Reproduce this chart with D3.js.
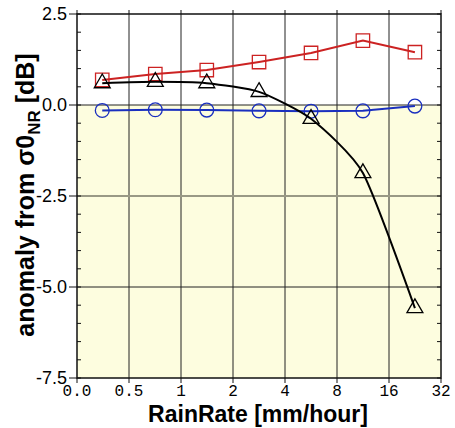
<!DOCTYPE html>
<html>
<head>
<meta charset="utf-8">
<script src="https://cdn.jsdelivr.net/npm/d3@7"></script>
<style>
  body { margin: 0; background: #fff; }
</style>
</head>
<body>
<script>
// rain rate bin edges (first edge is labelled 0.0) and bin centres
const binEdges = [0.25, 0.5, 1, 2, 4, 8, 16, 32];
const edgeLabels = ["0.0", "0.5", "1", "2", "4", "8", "16", "32"];
const binCenters = [0.35, 0.71, 1.41, 2.83, 5.66, 11.3, 22.6];

// anomaly [dB] for each series
const redSquares = [0.69, 0.85, 0.96, 1.18, 1.43, 1.77, 1.45];
const blackTriangles = [0.60, 0.64, 0.60, 0.36, -0.38, -1.87, -5.58];
const blueCircles = [-0.15, -0.13, -0.14, -0.16, -0.17, -0.16, -0.03];

const yTicks = [2.5, 0.0, -2.5, -5.0, -7.5];

const width = 455, height = 428;
const margin = {left: 77, top: 14, right: 14, bottom: 50};
const pw = 364, ph = 364;

const svg = d3.select("body").append("svg")
    .attr("width", width)
    .attr("height", height);

const x = d3.scaleLog().base(2)
    .domain([binEdges[0], binEdges[binEdges.length - 1]])
    .range([margin.left, margin.left + pw]);

const y = d3.scaleLinear()
    .domain([-7.5, 2.5])
    .range([margin.top + ph, margin.top]);

// backgrounds: white above zero, pale yellow below
svg.append("rect")
    .attr("x", x.range()[0]).attr("y", y(0))
    .attr("width", pw).attr("height", y(-7.5) - y(0))
    .attr("fill", "#fdfddf");

// vertical grid
svg.append("g").selectAll("line")
    .data(binEdges.slice(1, -1))
    .join("line")
    .attr("x1", d => x(d)).attr("x2", d => x(d))
    .attr("y1", y(2.5)).attr("y2", y(-7.5))
    .attr("stroke", "#222").attr("stroke-width", 1);

// horizontal grid
svg.append("g").selectAll("line")
    .data([0, -2.5, -5])
    .join("line")
    .attr("x1", x.range()[0]).attr("x2", x.range()[1])
    .attr("y1", d => y(d)).attr("y2", d => y(d))
    .attr("stroke", d => d === -2.5 ? "#999985" : "#222")
    .attr("stroke-width", d => d === -2.5 ? 2 : 1);

// frame
svg.append("rect")
    .attr("x", x.range()[0]).attr("y", y(2.5))
    .attr("width", pw).attr("height", ph)
    .attr("fill", "none").attr("stroke", "#111").attr("stroke-width", 1.5);

// y axes: minor ticks inside on both sides, major ticks outside on the left
const minorY = d3.range(-7.5, 2.51, 0.5);
const axisG = svg.append("g").attr("stroke", "#111");
axisG.selectAll(".yl").data(minorY).join("line")
    .attr("x1", x.range()[0]).attr("x2", x.range()[0] + 4)
    .attr("y1", d => y(d)).attr("y2", d => y(d));
axisG.selectAll(".yr").data(minorY).join("line")
    .attr("x1", x.range()[1] - 4).attr("x2", x.range()[1])
    .attr("y1", d => y(d)).attr("y2", d => y(d));
axisG.selectAll(".ym").data(yTicks).join("line")
    .attr("x1", x.range()[0] - 8).attr("x2", x.range()[0])
    .attr("y1", d => y(d)).attr("y2", d => y(d));

svg.append("g").selectAll("text")
    .data(yTicks)
    .join("text")
    .attr("x", x.range()[0] - 10)
    .attr("y", d => y(d) + 6)
    .attr("text-anchor", "end")
    .style("font", "18px 'Liberation Sans', Arial, sans-serif")
    .text(d => d.toFixed(1));

// x axis ticks outside top and bottom
axisG.selectAll(".xb").data(binEdges).join("line")
    .attr("x1", d => x(d)).attr("x2", d => x(d))
    .attr("y1", y(-7.5)).attr("y2", y(-7.5) + 5);
axisG.selectAll(".xt").data(binEdges).join("line")
    .attr("x1", d => x(d)).attr("x2", d => x(d))
    .attr("y1", y(2.5) - 4).attr("y2", y(2.5));

svg.append("g").selectAll("text")
    .data(binEdges)
    .join("text")
    .attr("x", d => x(d))
    .attr("y", y(-7.5) + 18)
    .attr("text-anchor", "middle")
    .style("font", "16px 'Liberation Mono', 'DejaVu Sans Mono', monospace")
    .text((d, i) => edgeLabels[i]);

// axis titles
svg.append("text")
    .attr("x", x.range()[0] + pw / 2 - 1)
    .attr("y", 422)
    .attr("text-anchor", "middle")
    .style("font", "bold 23px 'Liberation Sans', Arial, sans-serif")
    .text("RainRate [mm/hour]");

const yl = svg.append("text")
    .attr("transform", `translate(34, 195) rotate(-90)`)
    .attr("text-anchor", "middle")
    .style("font", "bold 25px 'Liberation Sans', Arial, sans-serif");
yl.append("tspan").text("anomaly from σ0");
yl.append("tspan").attr("dy", 6).style("font-size", "17px").text("NR");
yl.append("tspan").attr("dy", -6).text(" [dB]");

// series
const series = [
  {values: redSquares, color: "#cc2222", marker: "square", curve: d3.curveLinear},
  {values: blueCircles, color: "#1a2fbf", marker: "circle", curve: d3.curveLinear},
  {values: blackTriangles, color: "#000", marker: "triangle", curve: d3.curveCardinal.tension(0.4)}
];

const symbolFor = {
  square: d3.symbol().type(d3.symbolSquare).size(180),
  circle: d3.symbol().type(d3.symbolCircle).size(150),
  triangle: d3.symbol().type(d3.symbolTriangle).size(110)
};

series.forEach(s => {
  const pts = binCenters.map((c, i) => [c, s.values[i]]);
  svg.append("path")
      .datum(pts)
      .attr("fill", "none")
      .attr("stroke", s.color)
      .attr("stroke-width", 2)
      .attr("d", d3.line().x(d => x(d[0])).y(d => y(d[1])).curve(s.curve));
  svg.append("g").selectAll("path")
      .data(pts)
      .join("path")
      .attr("transform", d => `translate(${x(d[0])},${y(d[1])})`)
      .attr("d", symbolFor[s.marker]())
      .attr("fill", "none")
      .attr("stroke", s.color)
      .attr("stroke-width", 1.3);
});
</script>
</body>
</html>
